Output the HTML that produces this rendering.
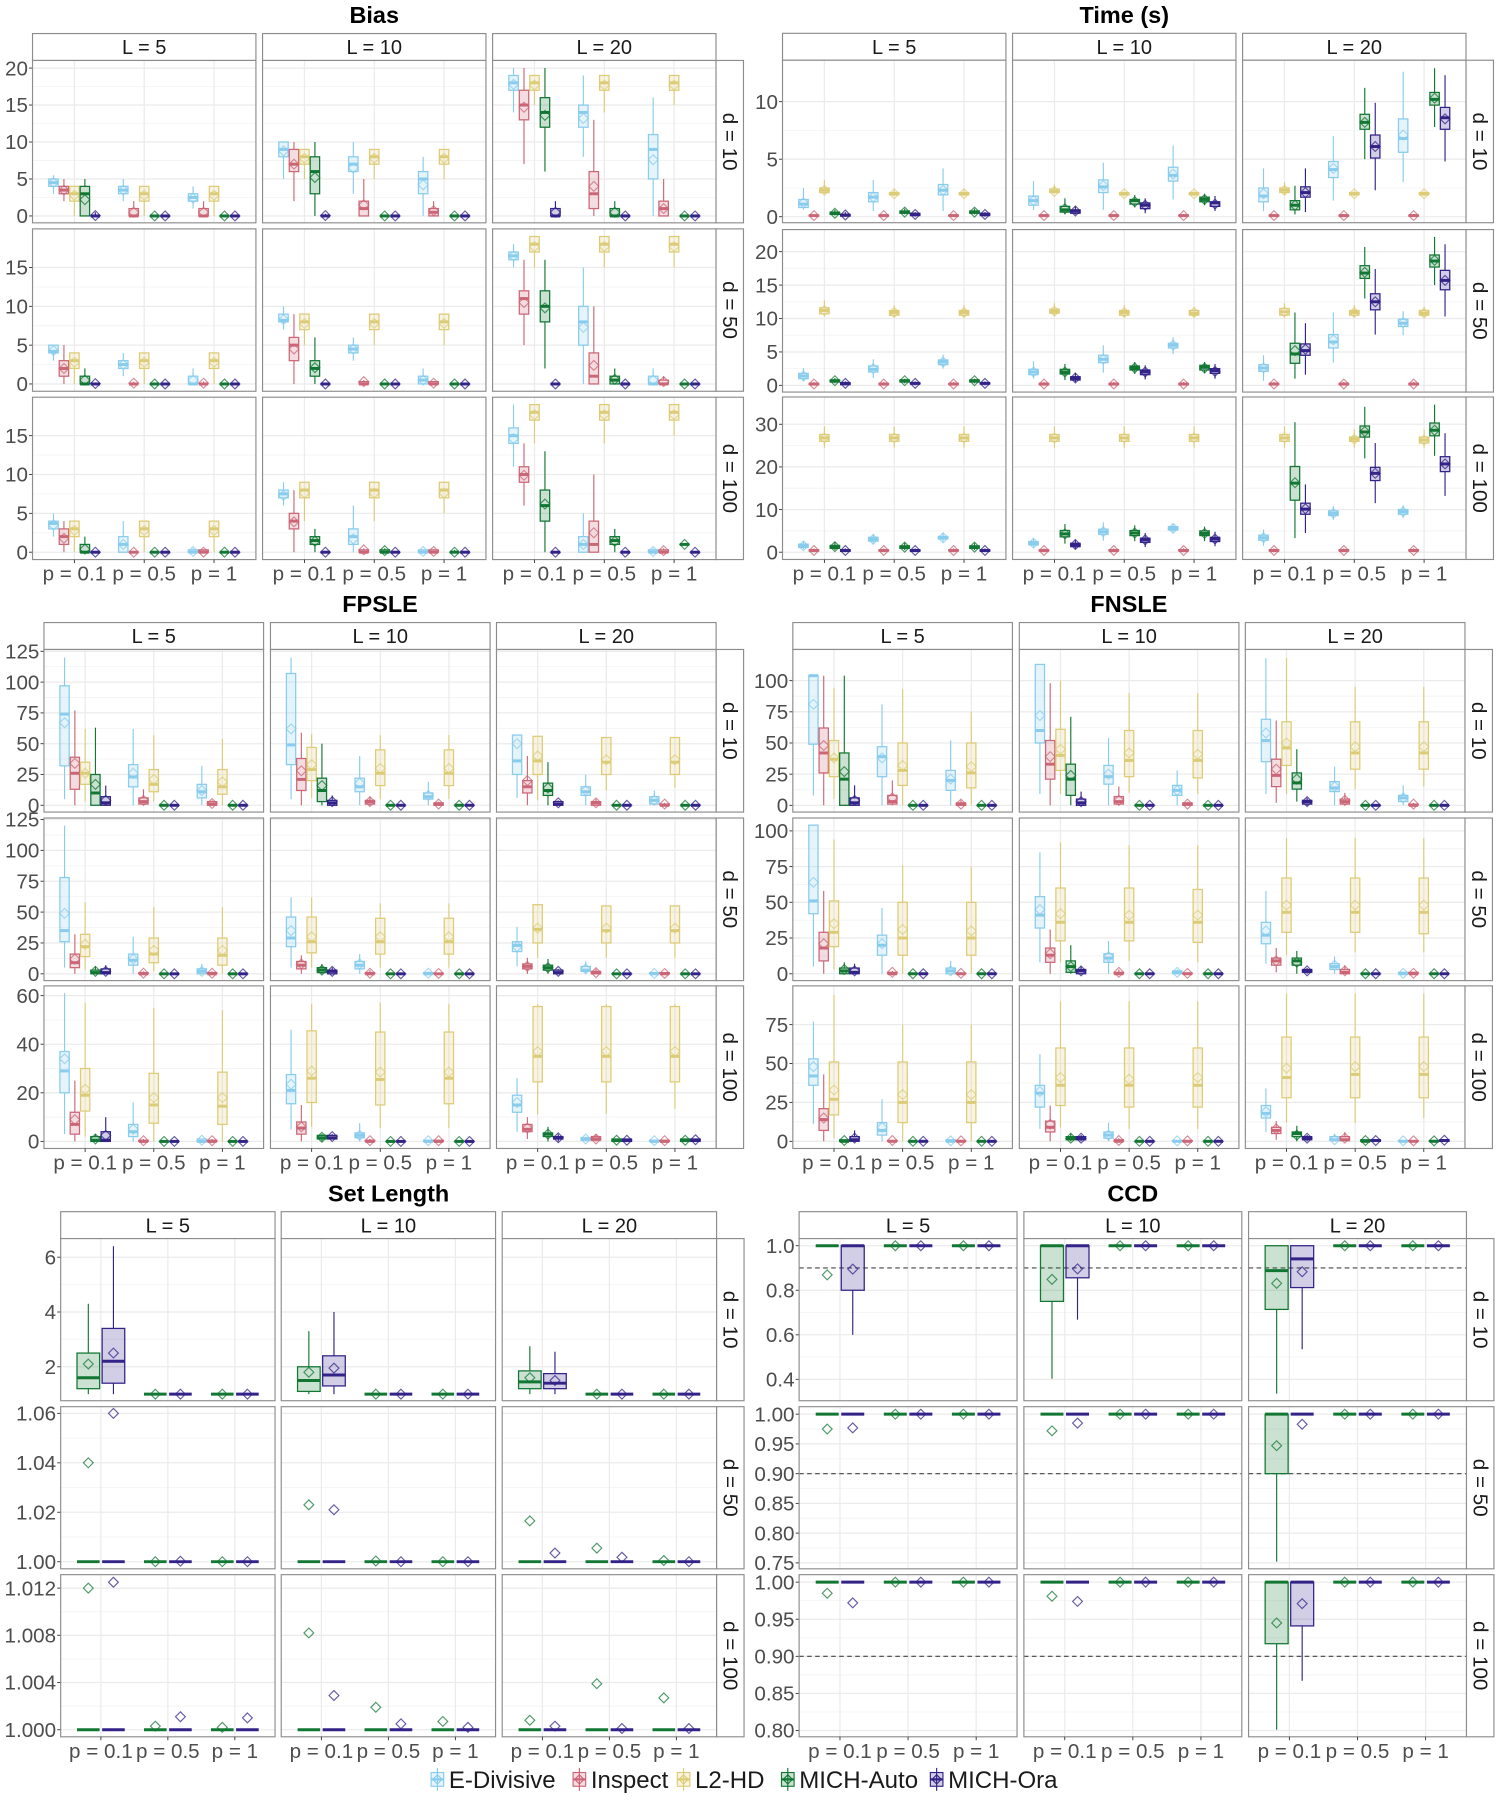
<!DOCTYPE html>
<html><head><meta charset="utf-8"><title>Simulation results</title>
<style>
html,body{margin:0;padding:0;background:#fff;}
svg{display:block;font-family:"Liberation Sans",Arial,sans-serif;}
</style></head>
<body>
<svg id="chart" width="1500" height="1800" viewBox="0 0 1310 1572" preserveAspectRatio="none" xmlns="http://www.w3.org/2000/svg"></svg>
<script>
// ---------- labels ----------
const methodNames = ['E-Divisive','Inspect','L2-HD','MICH-Auto','MICH-Ora'];
const methodColors = ['#88CCEE','#CC6677','#DDCC77','#117733','#332288'];
const pLabels = ['p = 0.1','p = 0.5','p = 1'];
const LLabels = ['L = 5','L = 10','L = 20'];
const dLabels = ['d = 10','d = 50','d = 100'];
// each box: [lowWhisker, q1, median, q3, highWhisker, mean]; a number v means all stats = v
const biasD10 = [
 [[[3,4,4.5,5,5.5,4.5],[2,3,3.5,4,5,3.5],[0,2,3,4,4,2.8],[0,0,3,4,5,2.2],[0,0,0,0,0.5,0.05]],
  [[2,3,3.5,4,5,3.5],[0,0,0,1,2,0.5],[0,2,3,4,4,2.8],0,0],
  [[1,2,2.5,3,4,2.4],[0,0,0,1,2,0.5],[0,2,3,4,4,2.8],0,0]],
 [[[5,8,9,10,10,8.8],[2,6,7,9,10,7],[5,7,8,9,9,7.8],[0,3,6,8,10,5.2],[0,0,0,0,0.3,0.05]],
  [[3,6,7,8,10,6.5],[0,0,1,2,5,1.5],[5,7,8,9,9,7.8],0,0],
  [[0,3,5,6,8,4.2],[0,0,0.5,1,2,0.7],[5,7,8,9,9,7.8],0,0]],
 [[[14,17,18,19,20,17.8],[7,13,15,17,20,14.7],[15,17,18,19,19,17.7],[6,12,14,16,20,13.6],[0,0,0,1,2,0.5]],
  [[8,12,14,15,19,13.2],[0,1,3,6,13,4],[14,17,18,19,19,17.7],[0,0,0,1,2,0.5],0],
  [[0,5,9,11,16,7.6],[0,0,1,2,5,1],[15,17,18,19,19,17.7],0,0]]];
const biasD50 = [
 [[[3,4,4.2,5,5,4.3],[0,1,2,3,5,2],[0,2,3,4,4,2.8],[0,0,0,1,2,0.5],[0,0,0,0,0.2,0.05]],
  [[1,2,2.5,3,4,2.5],[0,0,0,0,0.3,0.1],[0,2,3,4,4,2.8],0,0],
  [[0,0,0,1,2,0.5],[0,0,0,0,0.3,0.1],[0,2,3,4,4,2.8],0,0]],
 [[[7,8,8.2,9,10,8.3],[0,3,5,6,9,4.5],[5,7,8,9,9,7.8],[0,1,2,3,6,2.1],0],
  [[3,4,4.5,5,6,4.5],[0,0,0,0.3,0.5,0.3],[5,7,8,9,9,7.8],0,0],
  [[0,0,0.5,1,2,0.5],[0,0,0,0.3,0.3,0.1],[5,7,8,9,9,7.8],0,0]],
 [[[15,16,16.5,17,18,16.5],[5,9,11,12,16,10.5],[15,17,18,19,19,17.7],[2,8,10,12,16,9.8],0],
  [[0,5,8,10,15,7.3],[0,0,1,4,10,2.4],[15,17,18,19,19,17.7],[0,0,0.5,1,2,0.6],0],
  [[0,0,0,1,2,0.5],[0,0,0,0.5,1,0.3],[15,17,18,19,19,17.7],0,0]]];
const biasD100 = [
 [[[2,3,3.7,4,5,3.5],[0,1,2,3,4,1.8],[0,2,3,4,4,2.8],[0,0,0,1,2,0.4],0],
  [[0,0,1,2,4,1],0,[0,2,3,4,4,2.8],0,0],
  [[0,0,0,0.3,0.5,0.1],[0,0,0,0.3,0.3,0],[0,2,3,4,4,2.8],0,0]],
 [[[6,7,7.5,8,9,7.3],[0,3,4,5,8,3.9],[4,7,8,9,9,7.6],[0,1,1.5,2,3,1.4],0],
  [[0,1,2,3,6,1.7],[0,0,0,0.3,0.5,0.3],[4,7,8,9,9,7.6],[0,0,0,0.3,0.5,0.2],0],
  [[0,0,0,0.3,0.3,0.1],[0,0,0,0.3,0.3,0.1],[5,7,8,9,9,7.6],[0,0,0,0,0.3,0],0]],
 [[[11,14,15,16,19,14.6],[6,9,10,11,14,9.9],[14,17,18,19,19,17.7],[0,4,6,8,13,6.2],0],
  [[0,0,1,2,5,1],[0,0,1,4,10,2.5],[14,17,18,19,19,17.7],[0,1,1.5,2,3,1.4],0],
  [[0,0,0,0.3,0.5,0.1],[0,0,0,0.3,0.5,0.2],[15,17,18,19,19,17.7],1,0]]];

const timeInsp = [0,0.05,0.1,0.15,0.2,0.1];
const timeD10 = [
 [[[0.6,0.8,1.1,1.5,2.5,1.2],timeInsp,[2,2.1,2.3,2.5,3.2,2.3],[0.1,0.2,0.3,0.4,0.6,0.3],[0,0.05,0.15,0.2,0.4,0.15]],
  [[0.5,1.3,1.7,2.1,3.2,1.7],timeInsp,[1.8,1.9,2,2.1,2.3,2],[0.2,0.3,0.4,0.5,0.7,0.4],[0,0.1,0.2,0.3,0.4,0.2]],
  [[0.5,1.9,2.3,2.8,4.2,2.3],timeInsp,[1.8,1.9,2,2.1,2.3,2],[0.2,0.3,0.4,0.5,0.7,0.4],[0,0.1,0.2,0.3,0.4,0.2]]],
 [[[0.6,1.0,1.4,1.8,3.1,1.4],timeInsp,[2,2.1,2.2,2.4,2.8,2.2],[0.2,0.4,0.6,0.9,1.6,0.7],[0.2,0.3,0.5,0.6,0.9,0.5]],
  [[0.6,2.1,2.6,3.2,4.7,2.7],timeInsp,[1.8,1.9,2,2.1,2.2,2],[0.8,1.1,1.4,1.5,1.9,1.3],[0.3,0.7,1,1.2,1.6,1]],
  [[1.5,3.1,3.6,4.3,6.2,3.7],timeInsp,[1.8,1.9,2,2.1,2.2,2],[1,1.3,1.5,1.7,2,1.5],[0.5,0.9,1.2,1.3,1.8,1.1]]],
 [[[0.5,1.3,1.8,2.5,4.2,2],timeInsp,[1.9,2.1,2.3,2.5,3,2.3],[0.2,0.6,1,1.4,2.7,1],[0.4,1.7,2.1,2.6,4.2,2.1]],
  [[1.4,3.4,4.1,4.8,7,4.2],timeInsp,[1.8,1.9,2,2.1,2.2,2],[5,7.6,8.2,8.9,11.2,8.2],[2.3,5.1,6.1,7.1,9.9,6.1]],
  [[3,5.6,6.8,8.5,12.6,7.1],timeInsp,[1.8,1.9,2,2.1,2.2,2],[7.8,9.7,10.2,10.8,12.9,10.3],[4.8,7.6,8.6,9.5,12.3,8.5]]]];
const timeInsp50 = [0,0.1,0.2,0.3,0.5,0.2];
const timeD50 = [
 [[[0.6,1,1.4,1.8,2.6,1.4],timeInsp50,[10.3,10.7,11.2,11.6,12.7,11.2],[0.3,0.5,0.7,0.8,1.1,0.7],[0,0.1,0.3,0.4,0.6,0.3]],
  [[1.1,2,2.4,2.9,3.9,2.5],timeInsp50,[10.2,10.5,10.9,11.2,12,10.9],[0.3,0.5,0.7,0.8,1,0.7],[0,0.2,0.3,0.4,0.6,0.3]],
  [[2.5,3.1,3.5,3.8,4.6,3.5],timeInsp50,[10.2,10.5,10.9,11.2,12,10.9],[0.3,0.5,0.7,0.8,1,0.7],[0,0.2,0.3,0.4,0.6,0.3]]],
 [[[1,1.6,2,2.4,3.6,2],timeInsp50,[10.5,10.8,11.1,11.4,12.3,11.1],[0.8,1.7,2,2.4,3.2,2],[0.5,0.8,1.1,1.3,1.9,1.1]],
  [[1.9,3.4,3.9,4.5,6,3.9],timeInsp50,[10.2,10.5,10.9,11.2,12,10.9],[1.7,2.3,2.6,2.9,3.5,2.6],[0.9,1.6,2,2.3,3,2]],
  [[4.7,5.6,6,6.3,7.2,6],timeInsp50,[10.2,10.5,10.8,11.2,11.8,10.9],[1.8,2.3,2.7,3,3.5,2.6],[1,1.8,2.2,2.5,3.2,2.1]]],
 [[[0.7,2.1,2.6,3.1,4.5,2.6],timeInsp50,[10.1,10.5,11,11.5,12.3,11],[1,3.3,4.7,6.3,10.9,5.2],[1.6,4.5,5.2,6.2,9.3,5.4]],
  [[3.4,5.6,6.5,7.6,10.9,6.8],timeInsp50,[10.2,10.5,10.9,11.2,12,10.9],[13,16,16.8,17.9,20.7,16.9],[7.6,11.3,12.5,13.7,17.4,12.5]],
  [[7.5,8.8,9.3,9.9,11.1,9.4],timeInsp50,[10.2,10.5,10.8,11.2,11.8,10.8],[15,17.7,18.6,19.5,22.2,18.7],[10.3,14.3,15.7,17.2,21.1,15.7]]]];
const timeInsp100 = [0,0.3,0.4,0.6,0.9,0.4];
const timeL2_100 = [24.5,26,26.8,27.6,29.5,26.8];
const timeD100 = [
 [[[0.7,1.1,1.5,1.9,2.6,1.5],timeInsp100,timeL2_100,[0.5,0.9,1.3,1.6,2.4,1.3],[0,0.2,0.4,0.6,0.9,0.4]],
  [[2,2.6,3,3.5,4.3,3],timeInsp100,timeL2_100,[0.5,0.9,1.2,1.5,2.2,1.2],[0,0.2,0.4,0.6,0.9,0.4]],
  [[2.5,3.1,3.4,3.7,4.5,3.4],timeInsp100,timeL2_100,[0.5,0.9,1.2,1.5,2.1,1.2],[0,0.2,0.4,0.6,0.9,0.4]]],
 [[[1.2,1.7,2.1,2.5,3.3,2.1],timeInsp100,timeL2_100,[2,3.6,4.3,5.1,6.6,4.3],[0.8,1.3,1.8,2.1,2.9,1.8]],
  [[2.7,4.2,4.8,5.4,7,4.8],timeInsp100,timeL2_100,[2.6,3.9,4.5,5.1,6.3,4.5],[1.2,2.3,2.9,3.3,4.5,2.9]],
  [[4.6,5.2,5.6,6,6.6,5.6],timeInsp100,timeL2_100,[2.6,3.9,4.4,5,6,4.4],[1.4,2.5,3.1,3.5,4.8,3.1]]],
 [[[1.5,2.8,3.4,4,5.3,3.4],timeInsp100,timeL2_100,[3.3,12.2,16.2,20.1,30.5,16.3],[4.5,8.9,10.1,11.5,15.9,10.2]],
  [[7.6,8.6,9.1,9.7,10.8,9.1],timeInsp100,[24.5,26,26.5,27,28.8,26.5],[22,27,28.2,29.6,34.1,28.3],[11.5,16.8,18.5,19.9,25.6,18.5]],
  [[8,8.9,9.5,10,11,9.5],timeInsp100,[24.5,25.6,26.3,27,28.8,26.3],[22.6,27.3,28.6,30.3,34.6,28.6],[13.2,18.9,20.7,22.4,27.9,20.7]]]];

const fpD10 = [
 [[[5,32,74,97,120,67],[0,13,26,39,77,34],[3,17,26,35,62,26],[0,0,10,25,63,17],[0,0,2,7,16,4]],
  [[0,15,23,33,62,26],[0,1,3,6,13,4],[3,11,17,29,57,21],0,0],
  [[0,6,11,17,32,12],[0,0,1,3,4,1.5],[0,9,15,29,54,19],0,0]],
 [[[5,33,49,107,120,62],[0,12,21,38,59,28],[6,20,29,47,58,33],[0,3,12,22,50,16],[0,0,2,4,8,3]],
  [[0,11,15,22,40,18],[0,1,3,4,7,3],[5,16,26,45,57,30],0,0],
  [[0,5,7,10,19,8],[0,0,1,2,3,1],[5,16,26,45,57,30],0,0]],
 [[[6,25,36,57,57,50],[0,10,15,20,40,20],[4,25,36,56,56,40],[0,8,12,18,35,14],[0,0,1,3,4,2]],
  [[0,8,11,15,25,12],[0,0,2,3,5,2],[12,25,35,55,55,37],0,0],
  [[0,1,4,7,12,4],[0,0,0,1,2,1],[14,25,35,55,55,37],0,0]]];
const fpD50 = [
 [[[5,26,35,78,120,49],[0,5,9,16,32,12],[3,14,22,32,58,24],[0,0,1,3,6,2],[0,0,1,4,7,2]],
  [[0,7,11,16,30,12],[0,0,0,1,2,0.5],[2,9,16,29,54,19],0,0],
  [[0,0,2,4,8,2],[0,0,0,1,2,0.5],[0,7,15,29,54,19],0,0]],
 [[[5,22,29,46,62,35],[0,4,7,10,15,8],[5,17,26,46,62,30],[0,1,3,5,8,3],[0,0,2,3,5,2]],
  [[0,4,7,10,16,8],[0,0,0,1,3,0.5],[5,16,26,45,57,30],0,0],
  [[0,0,0,1,2,0.5],[0,0,0,0.5,1,0.3],[5,16,26,45,57,30],0,0]],
 [[[6,18,23,26,38,22],[0,4,6,8,13,6],[13,25,36,56,56,37],[0,3,5,7,12,5],[0,0,1,3,4,2]],
  [[0,2,3,6,10,4],[0,0,1,2,4,1],[13,25,35,55,55,37],0,0],
  [[0,0,0,1,1,0.3],[0,0,0,1,1,0.3],[13,25,35,55,55,37],0,0]]];
const fpD100 = [
 [[[3,20,29,37,61,34],[0,3,7,12,25,9],[2,12.5,19,30,57,21.5],[0,0,0.5,2,3,1],[0,0,0.5,4,10,2.5]],
  [[0,2,4,7,16,5],[0,0,0,0.5,1,0.3],[0,7.5,15,28,55,18],0,0],
  [[0,0,0,1,1,0.5],[0,0,0,0.5,1,0.3],[0,7,14.5,28.5,54,18],0,0]],
 [[[5,15.5,21,27.5,46,23.5],[0,3,5.5,8,15,6],[6,16,26,45.5,56.5,29],[0,1,1.5,2.5,3,1.7],[1,1,1.5,2.5,3,2]],
  [[0,1.5,2.5,3.5,7.5,2.5],[0,0,0,0.5,1,0.3],[5.5,15,25.5,45,57,28.5],0,0],
  [[0,0,0,0.5,0.5,0.3],[0,0,0,0.5,0.5,0.3],[5.5,15.5,26,45,56.5,28.5],0,0]],
 [[[4,12,15,19,26,16],[1,4,5,7,10,5.5],[11,24.5,35,55.5,56.5,37],[0,2,3,3.5,6,3],[0,1,1.5,2,3,1.5]],
  [[0,0.5,1,1.5,2,1],[0,0.5,1,2,3,1],[11.5,24.5,35,55.5,56.5,37],[0,0,0.5,1,1,0.5],[0,0,0.5,1,1,0.5]],
  [[0,0,0,0.5,0.5,0.3],[0,0,0,0.5,0.5,0.3],[13.5,24.5,35,55.5,56.5,37],[0,0,0.5,1,1,0.5],[0,0,0.5,1,1,0.7]]]];

const fnD10 = [
 [[[8,49,104,104,104,81],[0,26,42,62,104,48],[5,23,37,52,94,38],[0,0,21,42,104,27],[0,0,2,6,16,4]],
  [[0,23,39,47,81,38],[0,1,3,8,20,6],[0,16,28,50,93,32],0,0],
  [[0,12,20,28,52,21],[0,0,1,2,4,1],[0,14,26,50,75,31],0,0]],
 [[[9,50,60,113,113,72],[0,21,33,52,98,39],[9,28,40,61,100,45],[0,8,21,33,71,24],[0,0,2,5,11,3]],
  [[0,17,23,32,54,25],[0,1,3,7,15,4],[10,23,36,60,90,42],0,0],
  [[0,8,12,16,28,12],[0,0,1,2,3,1],[9,22,36,60,90,41],0,0]],
 [[[9,35,52,69,118,58],[2,15,24,37,68,29],[9,32,46,67,118,50],[3,13,18,26,45,21],[0,1,3,4,6,3]],
  [[0,11,14,19,31,15],[0,1,3,5,10,4],[13,29,42,67,95,47],0,0],
  [[0,3,6,8,16,6],[0,0,0,1,2,1],[15,29,42,67,95,47],0,0]]];
const fnD50 = [
 [[[5,42,51,104,104,64],[0,9,18,29,58,21],[3,19,29,51,94,35],[0,0,2,4,8,3],[0,0,1,4,7,2]],
  [[0,13,20,27,46,21],[0,0,0,1,2,1],[0,13,25,50,76,31],0,0],
  [[0,0,2,4,9,2],[0,0,0,0.5,1,0.3],[0,13,25,50,75,30],0,0]],
 [[[8,32,41,54,85,45],[0,8,13,18,31,14],[8,23,36,60,92,42],[0,1,5,9,20,5],[0,0,2,3,5,2]],
  [[0,8,11,14,23,12],[0,0,0,1,3,1],[9,23,36,60,90,41],0,0],
  [[0,0,1,2,3,1],[0,0,0,0.5,1,0.3],[8,22,36,59,90,41],0,0]],
 [[[7,21,27,36,58,30],[1,6,9,11,18,9],[13,29,43,67,95,48],[0,6,9,11,16,8],[0,1,2,3,4,2]],
  [[0,3,5,7,12,6],[0,0,1,3,6,2],[15,29,43,67,95,48],0,0],
  [[0,0,0,1,1,0.3],[0,0,0,1,1,0.3],[15,28,43,67,95,48],0,0]]];
const fnD100 = [
 [[[11,36,42,53,77,48],[0,7,14,21,43,15],[2,17,27,51,94,33],[0,0,0,1,1,0.5],[0,0,1,3,7,2]],
  [[0,4,7,12,27,9],[0,0,0,0.5,1,0.5],[0,12,25,51,75,30],0,0],
  [[0,0,0,1,1,0.3],[0,0,0,0.5,1,0.3],[0,12,25,51,75,30],0,0]],
 [[[8,22,31,36,56,32],[0,6,9,13,23,11],[9,23,36,60,90,41],[0,1,2,3,5,2],[0,1,2,3,4,2]],
  [[0,2,4,6,12,4],[0,0,0,1,2,0.5],[8,22,36,60,90,40],0,0],
  [[0,0,0,0.5,0.5,0.3],[0,0,0,0.5,0.5,0.3],[8,22,36,60,90,41],0,0]],
 [[[6,15,18,23,34,19],[1,5,7,9,13,8],[12,28,41,67,95,47],[0,3,5,6,10,4],[0,1,2,3,4,2]],
  [[0,0.5,1,3,5,1],[0,0.5,1,3,6,2],[12,28,43,67,95,48],[0,0,0,1,1,0.5],[0,0,0.5,1,1,0.5]],
  [[0,0,0,0.5,0.5,0.3],[0,0,0,0.5,0.5,0.3],[15,28,43,67,95,48],[0,0,0,0.5,1,0.3],[0,0,0.5,1,1,0.7]]]];

const slD10 = [
 [[[1,1.2,1.6,2.5,4.3,2.1],[1,1.4,2.2,3.4,6.4,2.5]],[1,1],[1,1]],
 [[[1,1.1,1.5,2,3.3,1.8],[1,1.3,1.7,2.4,4,1.95]],[1,1],[1,1]],
 [[[1,1.2,1.45,1.85,2.75,1.6],[1,1.2,1.4,1.75,2.55,1.5]],[1,1],[1,1]]];
const slD50 = [
 [[[1,1,1,1,1,1.04],[1,1,1,1,1,1.06]],[1,[1,1,1,1,1,1.0002]],[1,1]],
 [[[1,1,1,1,1,1.023],[1,1,1,1,1,1.021]],[[1,1,1,1,1,1.0003],1],[1,1]],
 [[[1,1,1,1,1,1.0165],[1,1,1,1,1,1.0035]],[[1,1,1,1,1,1.0055],[1,1,1,1,1,1.0018]],[[1,1,1,1,1,1.0005],1]]];
const slD100 = [
 [[[1,1,1,1,1,1.012],[1,1,1,1,1,1.0125]],[[1,1,1,1,1,1.0003],[1,1,1,1,1,1.0011]],[[1,1,1,1,1,1.0002],[1,1,1,1,1,1.001]]],
 [[[1,1,1,1,1,1.0082],[1,1,1,1,1,1.0029]],[[1,1,1,1,1,1.0019],[1,1,1,1,1,1.0005]],[[1,1,1,1,1,1.0007],[1,1,1,1,1,1.0002]]],
 [[[1,1,1,1,1,1.0008],[1,1,1,1,1,1.0003]],[[1,1,1,1,1,1.0039],[1,1,1,1,1,1.0001]],[[1,1,1,1,1,1.0027],[1,1,1,1,1,1.0001]]]];

const ccdD10 = [
 [[[1,1,1,1,1,0.869],[0.6,0.8,1,1,1,0.895]],[1,1],[1,1]],
 [[[0.403,0.75,1,1,1,0.849],[0.668,0.856,1,1,1,0.896]],[1,1],[1,1]],
 [[[0.336,0.714,0.888,1,1,0.831],[0.535,0.812,0.941,1,1,0.883]],[1,1],[1,1]]];
const ccdD50 = [
 [[[1,1,1,1,1,0.975],[1,1,1,1,1,0.977]],[1,1],[1,1]],
 [[[1,1,1,1,1,0.972],[1,1,1,1,1,0.985]],[1,1],[1,1]],
 [[[0.752,0.9,1,1,1,0.947],[1,1,1,1,1,0.983]],[1,1],[1,1]]];
const ccdD100 = [
 [[[1,1,1,1,1,0.985],[1,1,1,1,1,0.972]],[1,1],[1,1]],
 [[[1,1,1,1,1,0.981],[1,1,1,1,1,0.974]],[1,1],[1,1]],
 [[[0.801,0.917,1,1,1,0.945],[0.867,0.941,1,1,1,0.971]],[1,1],[1,1]]];

const biasTicks = [[0,5,10,15,20],[0,5,10,15],[0,5,10,15]];
const timeTicks = [[0,5,10],[0,5,10,15,20],[0,10,20,30]];
const fpTicks = [[0,25,50,75,100,125],[0,25,50,75,100,125],[0,20,40,60]];
const fnTicks = [[0,25,50,75,100],[0,25,50,75,100],[0,25,50,75]];
const slTicks = [[2,4,6],[1.00,1.02,1.04,1.06],[1.000,1.004,1.008,1.012]];
const ccdTicks = [[0.4,0.6,0.8,1.0],[0.75,0.80,0.85,0.90,0.95,1.00],[0.80,0.85,0.90,0.95,1.00]];
const ccdTarget = [0.9];

const panels = [
 {key:'bias',title:'Bias',xs:[28.4,229.3,430.2],w:195.1,ys:[52.8,199.9,346.9],h:141.8,data:[biasD10,biasD50,biasD100],doms:[[-0.93,21.03],[-0.94,19.98],[-0.95,19.95]],ticks:biasTicks,dec:[0,0,0],meth:[0,1,2,3,4]},
 {key:'time',title:'Time (s)',xs:[683.4,884.3,1085.2],w:195.1,ys:[52.6,200.5,346.7],h:141.9,data:[timeD10,timeD50,timeD100],doms:[[-0.52,13.6],[-1.0,23.3],[-1.7,36.4]],ticks:timeTicks,dec:[0,0,0],meth:[0,1,2,3,4]},
 {key:'fpsle',title:'FPSLE',xs:[38.4,236.2,433.6],w:191.8,ys:[567.2,714.4,861],h:142,data:[fpD10,fpD50,fpD100],doms:[[-5.5,126.5],[-5.5,126.2],[-2.9,64]],ticks:fpTicks,dec:[0,0,0],meth:[0,1,2,3,4]},
 {key:'fnsle',title:'FNSLE',xs:[692.4,890.2,1087.6],w:191.8,ys:[567.2,714.4,861],h:142,data:[fnD10,fnD50,fnD100],doms:[[-5.4,125],[-4.8,109],[-4.6,99.9]],ticks:fnTicks,dec:[0,0,0],meth:[0,1,2,3,4]},
 {key:'set-length',title:'Set Length',xs:[53,245.6,438.6],w:187.2,ys:[1081.7,1228.5,1375.2],h:141.6,data:[slD10,slD50,slD100],doms:[[0.76,6.68],[0.99712,1.0627],[0.9994,1.01314]],ticks:slTicks,dec:[0,2,3],meth:[3,4]},
 {key:'ccd',title:'CCD',xs:[697.9,894.2,1090.4],w:190.3,ys:[1081.7,1228.5,1375.2],h:141.6,data:[ccdD10,ccdD50,ccdD100],doms:[[0.304,1.032],[0.740,1.0126],[0.7915,1.0101]],ticks:ccdTicks,dec:[1,2,2],meth:[3,4],hline:ccdTarget}
];

const NS = 'http://www.w3.org/2000/svg';
const svg = document.getElementById('chart');
function mk(tag, attrs, parent){
  const e = document.createElementNS(NS, tag);
  for (const k in attrs) e.setAttribute(k, attrs[k]);
  (parent||svg).appendChild(e);
  return e;
}
function yScale(v, dom, top, h){ return top + h*(dom[1]-v)/(dom[1]-dom[0]); }
function xScale(pi, x0, w){ return x0 + w*((pi+1)-0.4)/3.2; }
function stats(b){ return (typeof b === 'number') ? [b,b,b,b,b,b] : b; }

const txtCol = '#4D4D4D', border = '#8C8C8C';
const TICK_FS = 18, STRIP_FS = 17.5;

panels.forEach(P => {
  const g = mk('g', {});
  
  
  const left = P.xs[0], right = P.xs[2] + P.w;
  const stripTop = P.ys[0] - 23.5;
  const title = mk('text', {x:(left+right)/2, y:stripTop-9, 'text-anchor':'middle', 'font-size':20.5, 'font-weight':'bold', fill:'#000'}, g);
  title.textContent = P.title;
  
  

  const nM = P.meth.length;
  const spacing = nM === 5 ? 0.15 : 0.375;
  const bwU = nM === 5 ? 0.135 : 0.3375;
  P.xs.forEach((x0, ci) => {
    const s = mk('rect', {x:x0, y:stripTop, width:P.w, height:23.5, fill:'#fff', stroke:border, 'stroke-width':1}, g);
    
    
    const t = mk('text', {x:x0+P.w/2, y:stripTop+18, 'text-anchor':'middle', 'font-size':STRIP_FS, fill:'#1a1a1a'}, g);
    t.textContent = LLabels[ci];
  });
  P.ys.forEach((y0, ri) => {
    const dom = P.doms[ri];
    const rs = mk('rect', {x:right, y:y0, width:24, height:P.h, fill:'#fff', stroke:border, 'stroke-width':1}, g);
    
    
    const rt = mk('text', {x:0, y:0, 'text-anchor':'middle', 'font-size':18, fill:'#1a1a1a', transform:`translate(${right+6},${y0+P.h/2}) rotate(90)`}, g);
    rt.textContent = dLabels[ri];
    const tk = P.ticks[ri];
    tk.forEach(v => {
      const yy = yScale(v, dom, y0, P.h);
      mk('line', {x1:left-3, x2:left, y1:yy, y2:yy, stroke:'#333', 'stroke-width':0.8}, g);
      const lt = mk('text', {x:left-4, y:yy+6.3, 'text-anchor':'end', 'font-size':TICK_FS, fill:txtCol}, g);
      lt.textContent = v.toFixed(P.dec[ri]);
    });
    P.xs.forEach((x0, ci) => {
      const f = mk('g', {}, g);
      
      
      mk('rect', {x:x0, y:y0, width:P.w, height:P.h, fill:'#fff'}, f);
      for (let i = 0; i < tk.length - 1; i++) {
        const yy = yScale((tk[i]+tk[i+1])/2, dom, y0, P.h);
        mk('line', {x1:x0, x2:x0+P.w, y1:yy, y2:yy, stroke:'#F4F4F4', 'stroke-width':0.8}, f);
      }
      tk.forEach(v => {
        const yy = yScale(v, dom, y0, P.h);
        mk('line', {x1:x0, x2:x0+P.w, y1:yy, y2:yy, stroke:'#EBEBEB', 'stroke-width':1.1}, f);
      });
      for (let pi = 0; pi < 3; pi++) {
        const xx = xScale(pi, x0, P.w);
        mk('line', {x1:xx, x2:xx, y1:y0, y2:y0+P.h, stroke:'#EBEBEB', 'stroke-width':1.1}, f);
      }
      if (P.hline) P.hline.forEach(v => {
        const yy = yScale(v, dom, y0, P.h);
        const hl = mk('line', {x1:x0, x2:x0+P.w, y1:yy, y2:yy, stroke:'#444', 'stroke-width':1, 'stroke-dasharray':'4,3'}, f);
        
        
      });
      const unit = P.w/3.2;
      const facet = P.data[ri][ci];
      for (let pi = 0; pi < 3; pi++) {
        const cx0 = xScale(pi, x0, P.w);
        facet[pi].forEach((raw, k) => {
          const s = stats(raw);
          const mi = P.meth[k];
          const col = methodColors[mi];
          const cx = cx0 + (k - (nM-1)/2)*spacing*unit;
          const bw = bwU*unit;
          const Y = v => yScale(v, dom, y0, P.h);
          const bg = mk('g', {}, f);
          
          
          mk('line', {x1:cx, x2:cx, y1:Y(s[0]), y2:Y(s[1]), stroke:col, 'stroke-width':1}, bg);
          mk('line', {x1:cx, x2:cx, y1:Y(s[3]), y2:Y(s[4]), stroke:col, 'stroke-width':1}, bg);
          mk('rect', {x:cx-bw/2, y:Y(s[3]), width:bw, height:Math.max(0, Y(s[1])-Y(s[3])), fill:col, 'fill-opacity':0.22, stroke:col, 'stroke-width':1.1}, bg);
          mk('line', {x1:cx-bw/2, x2:cx+bw/2, y1:Y(s[2]), y2:Y(s[2]), stroke:col, 'stroke-width':2.6}, bg);
          const my = Y(s[5]), d = 4.3;
          mk('path', {d:`M${cx} ${my-d}L${cx+d} ${my}L${cx} ${my+d}L${cx-d} ${my}Z`, fill:'none', stroke:col, 'stroke-opacity':0.75, 'stroke-width':1}, bg);
        });
      }
      mk('rect', {x:x0, y:y0, width:P.w, height:P.h, fill:'none', stroke:border, 'stroke-width':1}, f);
      if (ri === 2) {
        for (let pi = 0; pi < 3; pi++) {
          const xx = xScale(pi, x0, P.w);
          mk('line', {x1:xx, x2:xx, y1:y0+P.h, y2:y0+P.h+3, stroke:'#333', 'stroke-width':0.8}, g);
          const xt = mk('text', {x:xx, y:y0+P.h+18.5, 'text-anchor':'middle', 'font-size':TICK_FS, fill:txtCol}, g);
          xt.textContent = pLabels[pi];
        }
      }
    });
  });
});

const legendX = [382, 506, 597, 688, 818];
const lg = mk('g', {});


methodNames.forEach((nm, i) => {
  const col = methodColors[i];
  const e = mk('g', {}, lg);
  
  
  const cx = legendX[i], cy = 1554;
  mk('line', {x1:cx, x2:cx, y1:cy-10, y2:cy+10, stroke:col, 'stroke-width':1}, e);
  mk('rect', {x:cx-5.5, y:cy-6, width:11, height:12, fill:col, 'fill-opacity':0.22, stroke:col, 'stroke-width':1}, e);
  mk('line', {x1:cx-5.5, x2:cx+5.5, y1:cy, y2:cy, stroke:col, 'stroke-width':2}, e);
  mk('path', {d:`M${cx} ${cy-4}L${cx+4} ${cy}L${cx} ${cy+4}L${cx-4} ${cy}Z`, fill:'none', stroke:col, 'stroke-width':1}, e);
  const t = mk('text', {x:cx+10, y:cy+7.5, 'font-size':21, fill:'#1a1a1a'}, e);
  t.textContent = nm;
});
</script>
</body></html>
